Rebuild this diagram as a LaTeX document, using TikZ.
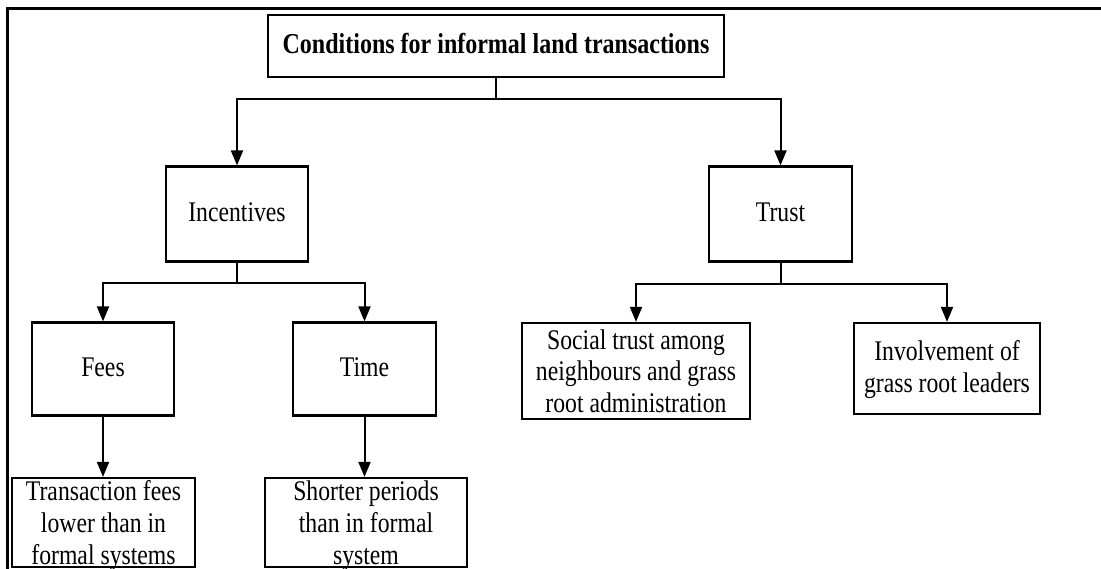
\documentclass[tikz,border=0pt]{standalone}
\usepackage{fontspec}
\usepackage{graphicx}
\setmainfont{Liberation Serif}
\usetikzlibrary{arrows.meta}
\newcommand\stxt[1]{\scalebox{1}[1.2]{\begin{tabular}{@{}c@{}}#1\end{tabular}}}
\begin{document}
\begin{tikzpicture}[x=1pt,y=-1pt,
  box/.style={draw, line width=2.2pt, inner sep=0pt, align=center,
    font=\fontsize{23.7}{26.4}\selectfont},
  one/.style={text height=25pt, text depth=7pt},
  two/.style={text height=41pt, text depth=22.5pt},
  three/.style={text height=51pt, text depth=29pt},
  conn/.style={line width=2pt},
  arr/.style={conn, -{Triangle[length=15pt,width=12pt]}},
  frameline/.style={line width=3pt}]
\useasboundingbox (0,0) rectangle (1101,569);
\draw[frameline] (1110,8.5) -- (7,8.5) -- (7,580);

\node[box, one, minimum width=456pt, minimum height=62pt, font=\fontsize{24}{26.4}\selectfont\bfseries] (title) at (496,46) {\stxt{Conditions for informal land transactions}};
\node[box, one, minimum width=142pt, minimum height=95pt] (inc) at (237,214) {\stxt{Incentives}};
\node[box, one, minimum width=143pt, minimum height=95pt] (trust) at (780.5,214) {\stxt{Trust}};
\node[box, one, minimum width=142pt, minimum height=93pt] (fees) at (103,369) {\stxt{Fees}};
\node[box, one, minimum width=143pt, minimum height=93pt] (time) at (364.5,369) {\stxt{Time}};
\node[box, three, minimum width=228pt, minimum height=96pt] (social) at (636,371) {\stxt{Social trust among\\neighbours and grass\\root administration}};
\node[box, two, minimum width=186pt, minimum height=91pt] (inv) at (947,368.5) {\stxt{Involvement of\\grass root leaders}};
\node[box, three, minimum width=183pt, minimum height=89pt] (tfees) at (103.5,522.5) {\stxt{Transaction fees\\lower than in\\formal systems}};
\node[box, three, minimum width=202pt, minimum height=89pt] (short) at (366,522.5) {\stxt{Shorter periods\\than in formal\\system}};

\coordinate (j0) at (496,99);
\coordinate (j1) at (237,283.5);
\coordinate (j2) at (780.5,284);

\draw[conn] (title.south) -- (j0);
\draw[arr] (j0) -| (inc.north);
\draw[arr] (j0) -| (trust.north);
\draw[conn] (inc.south) -- (j1);
\draw[arr] (j1) -| (fees.north);
\draw[arr] (j1) -| (time.north);
\draw[conn] (trust.south) -- (j2);
\draw[arr] (j2) -| (social.north);
\draw[arr] (j2) -| (inv.north);
\draw[arr] (fees.south) -- (fees.south |- tfees.north);
\draw[arr] (time.south) -- (time.south |- short.north);
\end{tikzpicture}
\end{document}
